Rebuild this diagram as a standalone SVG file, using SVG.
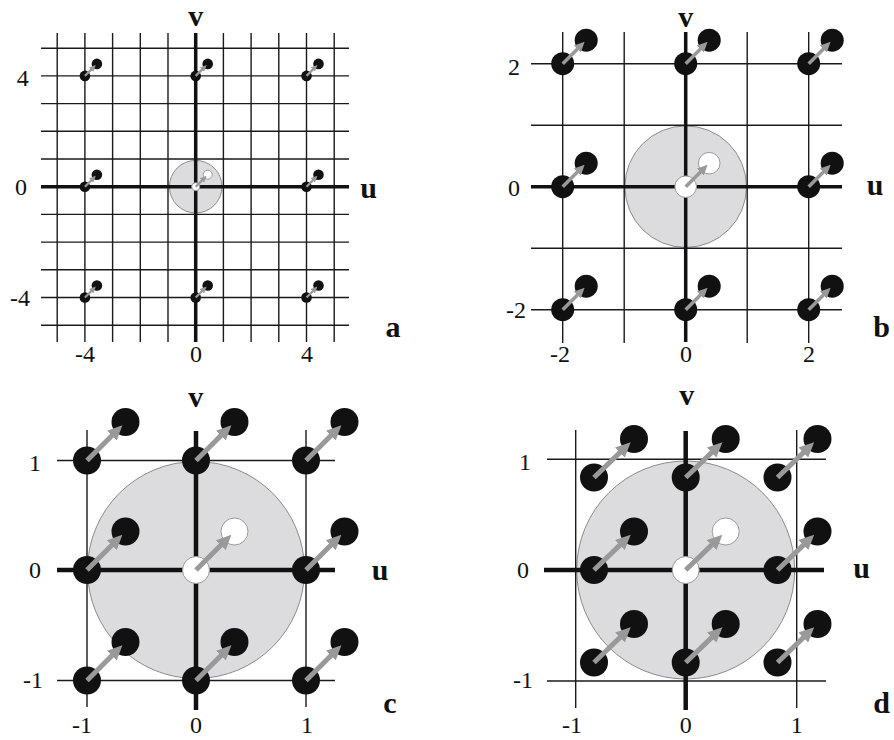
<svg xmlns="http://www.w3.org/2000/svg" width="894" height="740" viewBox="0 0 894 740">
<style>
.bg{fill:#fff}
.thin{stroke:#1a1a1a;stroke-width:1.4;fill:none}
.axA{stroke:#111;stroke-width:3.5}
.axC{stroke:#111;stroke-width:4.5}
.disc{fill:#dcdcde;stroke:#8c8c8c;stroke-width:1}
.dot{fill:#111}
.hole{fill:#fff;stroke:#9a9a9a;stroke-width:1}
.arr{stroke:#999;fill:none;marker-end:url(#ah)}
.wa{stroke-width:2.2}
.wb{stroke-width:3.5}
.wc{stroke-width:5}
.lab{font-family:"Liberation Serif","Times New Roman",Times,serif;font-weight:bold;font-size:30px;text-anchor:middle;fill:#111}
.num{font-family:"Liberation Serif","Times New Roman",Times,serif;font-size:24px;text-anchor:middle;fill:#111}
</style>
<defs>
<marker id="ah" viewBox="0 0 3 2.8" refX="1" refY="1.4" markerWidth="3" markerHeight="2.8" orient="auto" markerUnits="strokeWidth">
<path d="M0,0 L3,1.4 L0,2.8 z" fill="#999"/>
</marker>
</defs>
<rect class="bg" x="0" y="0" width="894" height="740"/>

<!-- Panel a -->
<g id="panel-a">
<circle class="disc" cx="195.7" cy="186.7" r="26.3"/>
<g id="grid-a">
<path class="thin" d="M57.2,33V342M84.9,33V342M112.6,33V342M140.3,33V342M168,33V342M223.4,33V342M251.1,33V342M278.8,33V342M306.5,33V342M334.2,33V342"/>
<path class="thin" d="M41,48.2H349M41,75.9H349M41,103.6H349M41,131.3H349M41,159H349M41,214.4H349M41,242.1H349M41,269.8H349M41,297.5H349M41,325.2H349"/>
<path class="axA" d="M41,186.7H349M195.7,33V342"/>
</g>
<g id="dots-a">
<circle class="dot" cx="84.9" cy="75.9" r="5.3"/><circle class="dot" cx="96.9" cy="63.9" r="5.3"/>
<circle class="dot" cx="195.7" cy="75.9" r="5.3"/><circle class="dot" cx="207.7" cy="63.9" r="5.3"/>
<circle class="dot" cx="306.5" cy="75.9" r="5.3"/><circle class="dot" cx="318.5" cy="63.9" r="5.3"/>
<circle class="dot" cx="84.9" cy="186.7" r="5.3"/><circle class="dot" cx="96.9" cy="174.7" r="5.3"/>
<circle class="dot" cx="306.5" cy="186.7" r="5.3"/><circle class="dot" cx="318.5" cy="174.7" r="5.3"/>
<circle class="dot" cx="84.9" cy="297.5" r="5.3"/><circle class="dot" cx="96.9" cy="285.5" r="5.3"/>
<circle class="dot" cx="195.7" cy="297.5" r="5.3"/><circle class="dot" cx="207.7" cy="285.5" r="5.3"/>
<circle class="dot" cx="306.5" cy="297.5" r="5.3"/><circle class="dot" cx="318.5" cy="285.5" r="5.3"/>
<circle class="hole" cx="195.7" cy="186.7" r="4"/><circle class="hole" cx="207.7" cy="174.7" r="4.5"/>
</g>
<g id="labels-a">
<text class="lab" x="195.7" y="26">v</text>
<text class="lab" x="368.5" y="198">u</text>
<text class="lab" x="393" y="337">a</text>
<text class="num" x="22.7" y="86">4</text>
<text class="num" x="21" y="195">0</text>
<text class="num" x="20" y="306">-4</text>
<text class="num" x="85" y="362">-4</text>
<text class="num" x="196" y="362">0</text>
<text class="num" x="307" y="362">4</text>
</g>
</g>

<!-- Panel b -->
<g id="panel-b">
<circle class="disc" cx="685.7" cy="186.7" r="60.8"/>
<g id="grid-b">
<path class="thin" d="M562.7,32V343M624.2,32V343M747.2,32V343M808.7,32V343"/>
<path class="thin" d="M531,63.7H842M531,125.2H842M531,248.2H842M531,309.7H842"/>
<path class="axA" d="M531,186.7H842M685.7,32V342"/>
</g>
<g id="dots-b">
<circle class="dot" cx="562.7" cy="63.7" r="11.5"/><circle class="dot" cx="586.2" cy="40.2" r="11.5"/>
<circle class="dot" cx="685.7" cy="63.7" r="11.5"/><circle class="dot" cx="709.2" cy="40.2" r="11.5"/>
<circle class="dot" cx="808.7" cy="63.7" r="11.5"/><circle class="dot" cx="832.2" cy="40.2" r="11.5"/>
<circle class="dot" cx="562.7" cy="186.7" r="11.5"/><circle class="dot" cx="586.2" cy="163.2" r="11.5"/>
<circle class="dot" cx="808.7" cy="186.7" r="11.5"/><circle class="dot" cx="832.2" cy="163.2" r="11.5"/>
<circle class="dot" cx="562.7" cy="309.7" r="11.5"/><circle class="dot" cx="586.2" cy="286.2" r="11.5"/>
<circle class="dot" cx="685.7" cy="309.7" r="11.5"/><circle class="dot" cx="709.2" cy="286.2" r="11.5"/>
<circle class="dot" cx="808.7" cy="309.7" r="11.5"/><circle class="dot" cx="832.2" cy="286.2" r="11.5"/>
<circle class="hole" cx="685.7" cy="186.7" r="10.8"/><circle class="hole" cx="709.2" cy="163.2" r="10.8"/>
</g>
<g id="labels-b">
<text class="lab" x="685.7" y="27">v</text>
<text class="lab" x="875" y="195">u</text>
<text class="lab" x="881.7" y="337">b</text>
<text class="num" x="514" y="75">2</text>
<text class="num" x="514" y="196">0</text>
<text class="num" x="516" y="318">-2</text>
<text class="num" x="560" y="362">-2</text>
<text class="num" x="686" y="362">0</text>
<text class="num" x="809" y="362">2</text>
</g>
</g>

<!-- Panel c -->
<g id="panel-c">
<circle class="disc" cx="196" cy="570" r="108.5"/>
<g id="grid-c">
<path class="thin" d="M87,430V707M306,430V707M57,460.5H335M57,680.5H335"/>
<path class="axC" d="M57,570H335M196,431V710"/>
</g>
<g id="dots-c">
<circle class="dot" cx="87" cy="460.5" r="14"/><circle class="dot" cx="125.5" cy="422" r="14"/>
<circle class="dot" cx="196" cy="460.5" r="14"/><circle class="dot" cx="234.5" cy="422" r="14"/>
<circle class="dot" cx="306" cy="460.5" r="14"/><circle class="dot" cx="344.5" cy="422" r="14"/>
<circle class="dot" cx="87" cy="570" r="14"/><circle class="dot" cx="125.5" cy="531.5" r="14"/>
<circle class="dot" cx="306" cy="570" r="14"/><circle class="dot" cx="344.5" cy="531.5" r="14"/>
<circle class="dot" cx="87" cy="680.5" r="14"/><circle class="dot" cx="125.5" cy="642" r="14"/>
<circle class="dot" cx="196" cy="680.5" r="14"/><circle class="dot" cx="234.5" cy="642" r="14"/>
<circle class="dot" cx="306" cy="680.5" r="14"/><circle class="dot" cx="344.5" cy="642" r="14"/>
<circle class="hole" cx="196" cy="570" r="13.5"/><circle class="hole" cx="234.5" cy="531.5" r="13.5"/>
</g>
<g id="labels-c">
<text class="lab" x="195.7" y="407">v</text>
<text class="lab" x="380" y="580">u</text>
<text class="lab" x="390" y="713">c</text>
<text class="num" x="35" y="471">1</text>
<text class="num" x="35" y="578">0</text>
<text class="num" x="33" y="688">-1</text>
<text class="num" x="82" y="733">-1</text>
<text class="num" x="196" y="733">0</text>
<text class="num" x="307" y="733">1</text>
</g>
</g>

<!-- Panel d -->
<g id="panel-d">
<circle class="disc" cx="685.7" cy="570" r="109"/>
<g id="grid-d">
<path class="thin" d="M575.7,430V708M796.7,430V708M547,459.3H826M547,681H826"/>
<path class="axC" d="M544,570H824M685.7,431V710"/>
</g>
<g id="dots-d">
<circle class="dot" cx="594" cy="477.5" r="14"/><circle class="dot" cx="634" cy="439" r="14"/>
<circle class="dot" cx="685.7" cy="477.5" r="14"/><circle class="dot" cx="725.7" cy="439" r="14"/>
<circle class="dot" cx="777.5" cy="477.5" r="14"/><circle class="dot" cx="817.5" cy="439" r="14"/>
<circle class="dot" cx="594" cy="570" r="14"/><circle class="dot" cx="634" cy="531.5" r="14"/>
<circle class="dot" cx="777.5" cy="570" r="14"/><circle class="dot" cx="817.5" cy="531.5" r="14"/>
<circle class="dot" cx="594" cy="662.5" r="14"/><circle class="dot" cx="634" cy="624" r="14"/>
<circle class="dot" cx="685.7" cy="662.5" r="14"/><circle class="dot" cx="725.7" cy="624" r="14"/>
<circle class="dot" cx="777.5" cy="662.5" r="14"/><circle class="dot" cx="817.5" cy="624" r="14"/>
<circle class="hole" cx="685.7" cy="570" r="13.5"/><circle class="hole" cx="725.7" cy="531.5" r="13.5"/>
</g>
<g id="labels-d">
<text class="lab" x="686.7" y="405">v</text>
<text class="lab" x="861.7" y="578">u</text>
<text class="lab" x="881.7" y="713">d</text>
<text class="num" x="525" y="470">1</text>
<text class="num" x="523" y="578">0</text>
<text class="num" x="523" y="688">-1</text>
<text class="num" x="572" y="733">-1</text>
<text class="num" x="685.7" y="733">0</text>
<text class="num" x="796.7" y="733">1</text>
</g>
</g>

<!-- connectors: shift arrows -->
<g id="connectors">
<line class="arr wa" x1="84.9" y1="75.9" x2="92.7" y2="68.1"/>
<line class="arr wa" x1="195.7" y1="75.9" x2="203.5" y2="68.1"/>
<line class="arr wa" x1="306.5" y1="75.9" x2="314.3" y2="68.1"/>
<line class="arr wa" x1="84.9" y1="186.7" x2="92.7" y2="178.9"/>
<line class="arr wa" x1="195.7" y1="186.7" x2="203.5" y2="178.9"/>
<line class="arr wa" x1="306.5" y1="186.7" x2="314.3" y2="178.9"/>
<line class="arr wa" x1="84.9" y1="297.5" x2="92.7" y2="289.7"/>
<line class="arr wa" x1="195.7" y1="297.5" x2="203.5" y2="289.7"/>
<line class="arr wa" x1="306.5" y1="297.5" x2="314.3" y2="289.7"/>

<line class="arr wb" x1="562.7" y1="63.7" x2="579.7" y2="46.7"/>
<line class="arr wb" x1="685.7" y1="63.7" x2="702.7" y2="46.7"/>
<line class="arr wb" x1="808.7" y1="63.7" x2="825.7" y2="46.7"/>
<line class="arr wb" x1="562.7" y1="186.7" x2="579.7" y2="169.7"/>
<line class="arr wb" x1="685.7" y1="186.7" x2="702.7" y2="169.7"/>
<line class="arr wb" x1="808.7" y1="186.7" x2="825.7" y2="169.7"/>
<line class="arr wb" x1="562.7" y1="309.7" x2="579.7" y2="292.7"/>
<line class="arr wb" x1="685.7" y1="309.7" x2="702.7" y2="292.7"/>
<line class="arr wb" x1="808.7" y1="309.7" x2="825.7" y2="292.7"/>

<line class="arr wc" x1="87" y1="460.5" x2="115.3" y2="432.2"/>
<line class="arr wc" x1="196" y1="460.5" x2="224.3" y2="432.2"/>
<line class="arr wc" x1="306" y1="460.5" x2="334.3" y2="432.2"/>
<line class="arr wc" x1="87" y1="570" x2="115.3" y2="541.7"/>
<line class="arr wc" x1="196" y1="570" x2="224.3" y2="541.7"/>
<line class="arr wc" x1="306" y1="570" x2="334.3" y2="541.7"/>
<line class="arr wc" x1="87" y1="680.5" x2="115.3" y2="652.2"/>
<line class="arr wc" x1="196" y1="680.5" x2="224.3" y2="652.2"/>
<line class="arr wc" x1="306" y1="680.5" x2="334.3" y2="652.2"/>

<line class="arr wc" x1="594" y1="477.5" x2="623.5" y2="449.1"/>
<line class="arr wc" x1="685.7" y1="477.5" x2="715.2" y2="449.1"/>
<line class="arr wc" x1="777.5" y1="477.5" x2="807" y2="449.1"/>
<line class="arr wc" x1="594" y1="570" x2="623.5" y2="541.6"/>
<line class="arr wc" x1="685.7" y1="570" x2="715.2" y2="541.6"/>
<line class="arr wc" x1="777.5" y1="570" x2="807" y2="541.6"/>
<line class="arr wc" x1="594" y1="662.5" x2="623.5" y2="634.1"/>
<line class="arr wc" x1="685.7" y1="662.5" x2="715.2" y2="634.1"/>
<line class="arr wc" x1="777.5" y1="662.5" x2="807" y2="634.1"/>
</g>
</svg>
